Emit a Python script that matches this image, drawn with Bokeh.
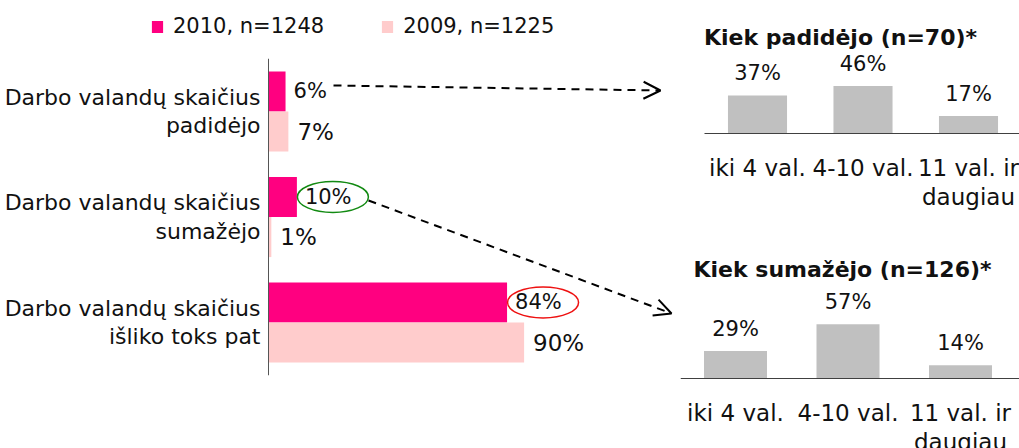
from bokeh.plotting import figure
from bokeh.models import Range1d, Legend, LegendItem, Arrow, OpenHead, Label
from bokeh.layouts import row, column
from bokeh.embed import file_html
from bokeh.resources import INLINE
from bokeh.core.properties import value

# ---------------- data ----------------
categories = ["Darbo valandų skaičius\npadidėjo",
              "Darbo valandų skaičius\nsumažėjo",
              "Darbo valandų skaičius\nišliko toks pat"]
series_2010 = [6, 10, 84]
series_2009 = [7, 1, 90]
legend_labels = ["2010, n=1248", "2009, n=1225"]

inc_title = "Kiek padidėjo (n=70)*"
dec_title = "Kiek sumažėjo (n=126)*"
bins = ["iki 4 val.", "4-10 val.", "11 val. ir\ndaugiau"]
inc_values = [37, 46, 17]
dec_values = [29, 57, 14]

# ---------------- styles ----------------
FONT = "DejaVu Sans"
PINK = "#FF0080"
LIGHT = "#FFCCCC"
GRAY = "#C0C0C0"
TXT = "#111111"

# ---------------- left chart ----------------
LW, LH = 680, 448
PX = 2.84          # px per percent
AXIS_X = 268       # axis position inside figure (px)
ROW = 105.5        # px per category
TOP0 = 111         # px from top to first category centre

x_start = -AXIS_X / PX
x_end = (LW - AXIS_X) / PX
y_top = -TOP0 / ROW
y_bottom = y_top + LH / ROW

left = figure(width=LW, height=LH, x_range=Range1d(x_start, x_end),
              y_range=Range1d(y_bottom, y_top), output_backend="svg",
              toolbar_location=None, min_border=0,
              x_axis_location=None, y_axis_location=None)
left.grid.visible = False
left.outline_line_color = None

ys = list(range(len(categories)))
OFF = 0.19
y10 = [y - OFF for y in ys]
y09 = [y + OFF for y in ys]

r10 = left.hbar(y=y10, left=0, right=series_2010, height=0.38,
                fill_color=PINK, line_color=None)
r09 = left.hbar(y=y09, left=0, right=series_2009, height=0.38,
                fill_color=LIGHT, line_color=None)

left.segment(x0=0, y0=-0.5, x1=0, y1=len(categories) - 0.5,
             line_color="#555555", line_width=1)

left.text(x=[v + 8 / PX for v in series_2010], y=y10,
          text=[f"{v}%" for v in series_2010], text_font=value(FONT),
          text_font_size="21px", text_baseline="middle", text_align="left",
          text_color=TXT)
left.text(x=[v + 9 / PX for v in series_2009], y=y09,
          text=[f"{v}%" for v in series_2009], text_font=value(FONT),
          text_font_size="23px", text_baseline="middle", text_align="left",
          text_color=TXT)

left.text(x=[-8 / PX] * len(categories), y=ys, text=categories,
          text_font=value(FONT), text_font_size="22px", text_align="right",
          text_baseline="middle", text_line_height=1.14, text_color=TXT)

# highlight ellipses around 2010 values of rows 1 and 2
hl_idx = [1, 2]
left.ellipse(x=[series_2010[i] + 36 / PX for i in hl_idx],
             y=[y10[i] for i in hl_idx], width=71, height=31,
             width_units="screen", height_units="screen", fill_color=None,
             line_color=["#128A12", "#EE1111"], line_width=1.5)


def ldata(px, py):
    return ((px - AXIS_X) / PX, y_top + py / ROW)


for (sx, sy), (ex, ey) in [((333, 85), (660, 90)), ((368, 200), (671, 313))]:
    (x0, y0), (x1, y1) = ldata(sx, sy), ldata(ex, ey)
    left.add_layout(Arrow(end=OpenHead(size=17, line_width=2, line_color="black"),
                          x_start=x0, y_start=y0, x_end=x1, y_end=y1,
                          line_dash="8 6", line_width=2, line_color="black"))

legend = Legend(items=[LegendItem(label=legend_labels[0], renderers=[r10]),
                       LegendItem(label=legend_labels[1], renderers=[r09])],
                orientation="horizontal", location=(150, 410),
                label_text_font=FONT, label_text_font_size="21px",
                label_text_color=TXT,
                glyph_width=14, glyph_height=15, label_standoff=9,
                spacing=56, padding=0, margin=0, border_line_color=None,
                background_fill_alpha=0)
left.add_layout(legend)


# ---------------- right charts ----------------
def small_chart(title, values, W, H, base_y, pxu, spacing, cat0, axis_from,
                title_x, title_y):
    xs = list(range(len(bins)))
    xr = Range1d(-cat0 / spacing, (W - cat0) / spacing)
    p = figure(width=W, height=H, x_range=xr,
               y_range=Range1d(-(H - base_y) / pxu, base_y / pxu),
               output_backend="svg", toolbar_location=None, min_border=0,
               x_axis_location=None, y_axis_location=None)
    p.grid.visible = False
    p.outline_line_color = None
    p.vbar(x=xs, top=values, width=0.56, fill_color=GRAY, line_color=None)
    p.segment(x0=(axis_from - cat0) / spacing, y0=0, x1=xr.end, y1=0,
              line_color="#404040", line_width=1)
    p.text(x=xs, y=values, text=[f"{v}%" for v in values], text_font=value(FONT),
           text_font_size="21px", text_align="center", text_baseline="middle",
           y_offset=-22, text_color=TXT)
    p.text(x=xs, y=[0] * len(xs), text=bins, text_font=value(FONT),
           text_font_size="23px", text_align="center", text_baseline="top",
           y_offset=21, text_line_height=1.15, text_color=TXT)
    p.add_layout(Label(x=(title_x - cat0) / spacing, y=(base_y - title_y) / pxu,
                       text=title, text_font=FONT, text_font_size="22px",
                       text_font_style="bold", text_align="center",
                       text_baseline="middle", text_color=TXT))
    return p


top = small_chart(inc_title, inc_values, 339, 240, 133, 1.03, 105.5, 77, 24, 160, 37)
bottom = small_chart(dec_title, dec_values, 339, 208, 138, 0.95, 112.5, 55, 0, 162, 29)

layout = row(left, column(top, bottom))
open("out.html", "w").write(file_html(layout, INLINE))
